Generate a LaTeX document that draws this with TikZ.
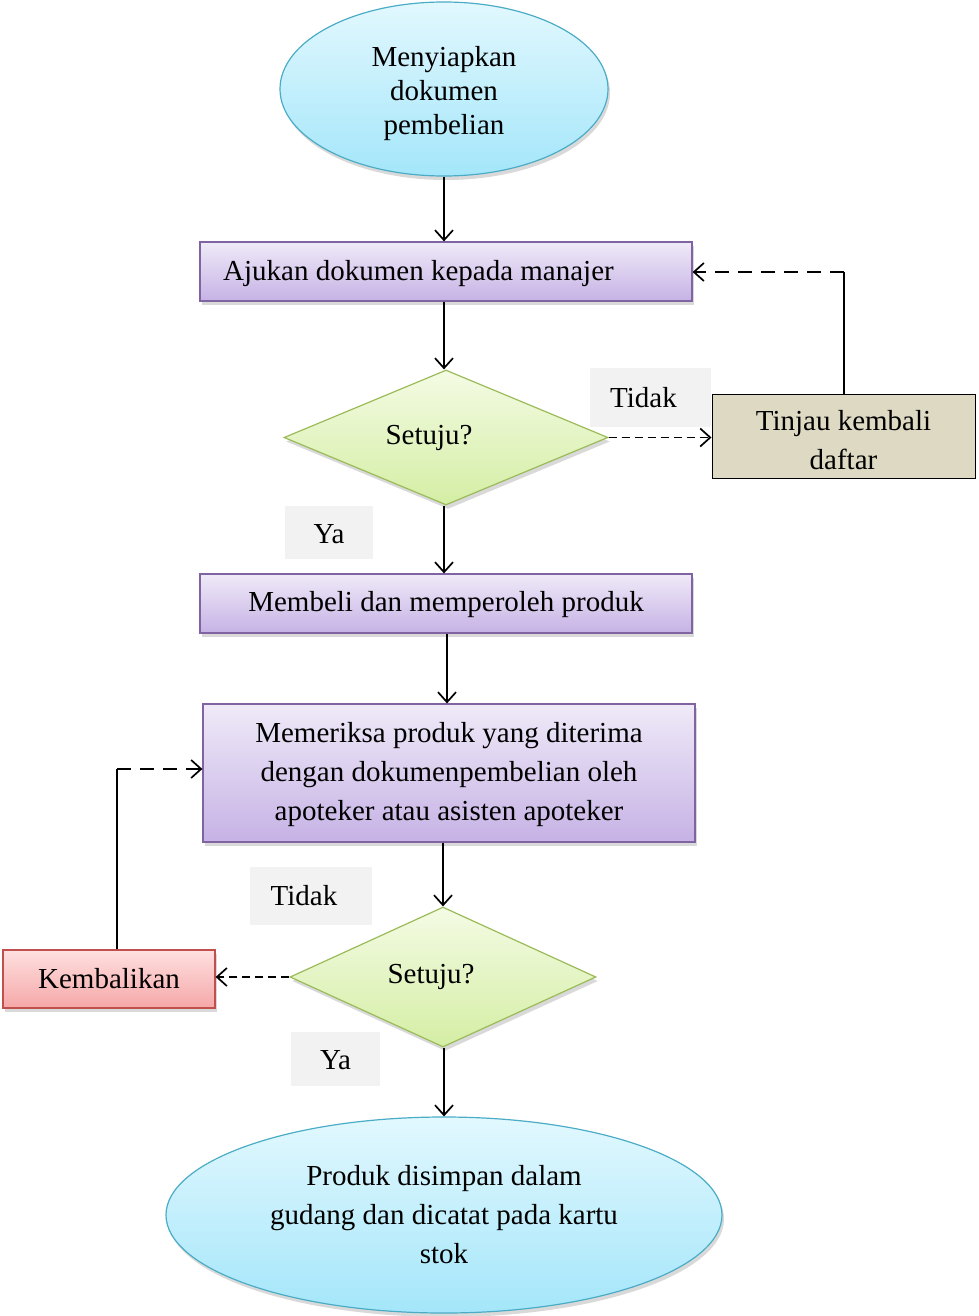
\documentclass[tikz,border=0pt]{standalone}
\usepackage{fontspec}
\setmainfont{Liberation Serif}
\usetikzlibrary{shapes.geometric,arrows.meta,shadows}
\definecolor{ellTop}{HTML}{E2F8FE}
\definecolor{ellBot}{HTML}{A4E6FA}
\definecolor{ellLine}{HTML}{4BACC6}
\definecolor{purTop}{HTML}{EFEAF8}
\definecolor{purBot}{HTML}{C6B2E5}
\definecolor{purLine}{HTML}{8064A2}
\definecolor{grnTop}{HTML}{F4FBE4}
\definecolor{grnBot}{HTML}{D4EEA4}
\definecolor{grnLine}{HTML}{9BBB59}
\definecolor{redTop}{HTML}{FFE0E0}
\definecolor{redBot}{HTML}{F5A7A7}
\definecolor{redLine}{HTML}{C0504D}
\definecolor{tanFill}{HTML}{DDD9C3}
\definecolor{lblFill}{HTML}{F2F2F2}
\tikzset{
  txt/.style={font=\fontsize{29}{34}\selectfont},
  shd/.style={drop shadow={shadow xshift=2pt,shadow yshift=-4pt,opacity=0.25,fill=black!60}},
  term/.style={txt,ellipse,draw=ellLine,line width=1.2pt,top color=ellTop,bottom color=ellBot,inner sep=0pt,align=center,shd},
  proc/.style={txt,rectangle,draw=purLine,line width=1.2pt,top color=purTop,bottom color=purBot,inner sep=0pt,align=center,shd},
  dec/.style={txt,diamond,draw=grnLine,line width=1.2pt,top color=grnTop,bottom color=grnBot,inner sep=0pt,shd},
  redbox/.style={txt,rectangle,draw=redLine,line width=1.2pt,top color=redTop,bottom color=redBot,inner sep=0pt,shd},
  tanbox/.style={txt,rectangle,draw=black,line width=1pt,fill=tanFill,inner sep=0pt,align=center},
  lbl/.style={txt,rectangle,fill=lblFill,inner sep=0pt},
  arr/.style={line width=1.7pt,-{Straight Barb[length=10pt,width=18pt,line width=1.7pt]}},
  conn/.style={line width=1.7pt},
  dlong/.style={dash pattern=on 14pt off 9pt},
  dshort/.style={dash pattern=on 8pt off 5pt},
}
\begin{document}
\begin{tikzpicture}[x=1pt,y=-1pt]
\useasboundingbox (0,0) rectangle (978,1316);
% nodes
\node[term,minimum width=328pt,minimum height=174pt] (start) at (444,89) {\rule{0pt}{29pt}Menyiapkan\\dokumen\\pembelian};
\node[proc,minimum width=492pt,minimum height=59pt] (ajukan) at (446,271.5) {\rule{0pt}{24pt}Ajukan dokumen kepada manajer\hspace*{55pt}};
\node[dec,aspect=2.4,minimum width=324pt,minimum height=135pt] (d1) at (446,437.5) {Setuju?\hspace*{34pt}};
\node[lbl,minimum width=121pt,minimum height=59pt] (tidak1) at (650.5,397.5) {Tidak\hspace*{14pt}};
\node[tanbox,minimum width=263pt,minimum height=84pt,font=\fontsize{29}{39}\selectfont] (tinjau) at (843.5,436) {\rule{0pt}{29pt}Tinjau kembali\\daftar};
\node[lbl,minimum width=88pt,minimum height=53pt] (ya1) at (329,532.5) {\rule{0pt}{22pt}Ya};
\node[proc,minimum width=492pt,minimum height=59pt] (beli) at (446,603.5) {\rule{0pt}{23pt}Membeli dan memperoleh produk};
\node[proc,minimum width=492pt,minimum height=138pt,font=\fontsize{29}{39}\selectfont] (periksa) at (449,773) {\rule{0pt}{23pt}Memeriksa produk yang diterima\\dengan dokumenpembelian oleh\\apoteker atau asisten apoteker};
\node[lbl,minimum width=122pt,minimum height=58pt] (tidak2) at (311,896) {Tidak\hspace*{14pt}};
\node[dec,aspect=2.19,minimum width=306pt,minimum height=140pt] (d2) at (443,977) {Setuju?\hspace*{24pt}};
\node[redbox,minimum width=212pt,minimum height=58pt] (kembali) at (109,979) {Kembalikan};
\node[lbl,minimum width=89pt,minimum height=54pt] (ya2) at (335.5,1059) {\rule{0pt}{22pt}Ya};
\node[term,minimum width=556pt,minimum height=196pt,font=\fontsize{29}{39}\selectfont] (end) at (444,1215) {Produk disimpan dalam\\gudang dan dicatat pada kartu\\stok};
% bend coordinates
\coordinate (c1) at (844,272);
\coordinate (c2) at (117,769);
% connectors
\draw[arr] (start.south) -- (start.south |- ajukan.north);
\draw[arr] (ajukan.south -| start.south) -- (start.south |- d1.north);
\draw[arr,dshort] (d1.east) -- (d1.east -| tinjau.west);
\draw[conn] (tinjau.north -| c1) -- (c1);
\draw[arr,dlong] (c1) -- (ajukan.east |- c1);
\draw[arr] (d1.south -| start.south) -- (start.south |- beli.north);
\draw[arr] (beli.south) ++(1,0) coordinate (b2) -- (b2 |- periksa.north);
\draw[arr] (periksa.south -| d2.north) -- (d2.north);
\draw[arr,dshort] (d2.west) -- (d2.west -| kembali.east);
\draw[conn] (kembali.north -| c2) -- (c2);
\draw[arr,dlong] (c2) -- (c2 -| periksa.west);
\draw[arr] (d2.south -| start.south) -- (start.south |- end.north);
\end{tikzpicture}
\end{document}
